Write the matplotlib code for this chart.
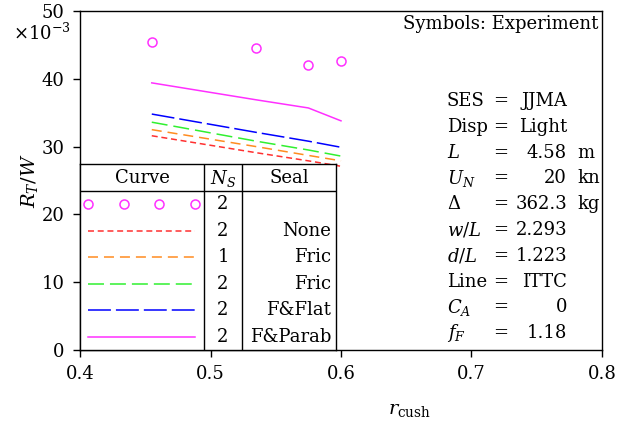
import matplotlib
matplotlib.use("Agg")
import matplotlib.pyplot as plt

plt.rcParams['font.family'] = ['DejaVu Serif']
plt.rcParams['mathtext.fontset'] = 'dejavuserif'
plt.rcParams['lines.scale_dashes'] = False

# resistance-to-weight ratio (x 1e-3) vs cushion ratio
r_exp = [0.455, 0.535, 0.575, 0.600]
rw_exp = [45.4, 44.5, 42.0, 42.6]

r_calc = [0.455, 0.535, 0.575, 0.600]
rw_none = [31.6, 29.1, 27.9, 27.1]
rw_fric1 = [32.5, 30.0, 28.7, 27.9]
rw_fric2 = [33.6, 30.8, 29.5, 28.6]
rw_flat = [34.8, 32.1, 30.8, 29.9]
rw_parab = [39.4, 36.9, 35.7, 33.8]

ns_col = ['2', '2', '1', '2', '2', '2']
seal_col = ['', 'None', 'Fric', 'Fric', 'F&Flat', 'F&Parab']

par_names = ['SES', 'Disp', '$L$', '$U_N$', 'Δ', '$w/L$', '$d/L$', 'Line', '$C_A$', '$f_F$']
par_values = ['JJMA', 'Light', '4.58', '20', '362.3', '2.293', '1.223', 'ITTC', '0', '1.18']
par_units = ['', '', 'm', 'kn', 'kg', '', '', '', '', '']

W, H = 637, 428
fig = plt.figure(figsize=(W / 100, H / 100), dpi=100)
ax = fig.add_axes([80 / W, 1 - 350 / H, 522 / W, 339 / H])
FS = 13


def px(x, y):
    # pixel position -> axes fraction
    return (x - 80) / 522, (350 - y) / 339


styles = [
    (rw_none, '#ff3030', (0, (4.3, 2.7))),
    (rw_fric1, '#ff8c20', (0, (7.2, 4.3))),
    (rw_fric2, '#30f030', (0, (11.5, 4.3))),
    (rw_flat, '#0000ff', (0, (16.5, 3.6))),
    (rw_parab, '#ff30ff', '-'),
]

ax.plot(r_exp, rw_exp, 'o', ms=6.5, mfc='none', mec='#ff30ff', mew=1.1)
for vals, col, ls in styles:
    ax.plot(r_calc, vals, color=col, ls=ls, lw=1.1)

ax.set_xlim(0.4, 0.8)
ax.set_ylim(0, 50)
ax.set_xticks([0.4, 0.5, 0.6, 0.7, 0.8])
ax.set_yticks([0, 10, 20, 30, 40, 50])
ax.tick_params(direction='out', length=5, width=1, labelsize=13, pad=6)
for s in ax.spines.values():
    s.set_linewidth(1)

ax.set_ylabel('$R_T/W$', fontsize=14)
ax.yaxis.set_label_coords(-0.077, 0.5)
ax.text(*px(410, 410), r'$r_\mathrm{cush}$', transform=ax.transAxes,
        fontsize=14, ha='center', va='center')
fig.text(13 / W, 1 - 33 / H, r'$\times10^{-3}$', fontsize=FS, va='center')

ax.text(*px(598, 24), 'Symbols: Experiment', transform=ax.transAxes,
        fontsize=FS, ha='right', va='center')

# parameter block
for i, (n, v, u) in enumerate(zip(par_names, par_values, par_units)):
    y = 101 + 25.8 * i
    ax.text(*px(447, y), n, transform=ax.transAxes, fontsize=FS, va='center')
    ax.text(*px(501, y), '=', transform=ax.transAxes, fontsize=FS,
            ha='center', va='center')
    ax.text(*px(567, y), v, transform=ax.transAxes, fontsize=FS,
            ha='right', va='center')
    if u:
        ax.text(*px(577, y), u, transform=ax.transAxes, fontsize=FS, va='center')

# legend table in lower-left corner
tab = ax.inset_axes([0, 0, 256 / 522, 186 / 339])
tab.set_xlim(0, 256)
tab.set_ylim(186, 0)
tab.set_xticks([])
tab.set_yticks([])
tab.set_facecolor('white')
for s in tab.spines.values():
    s.set_linewidth(1)
tab.axhline(27, color='black', lw=1)
tab.axvline(124, color='black', lw=1)
tab.axvline(162, color='black', lw=1)
tab.text(62, 14, 'Curve', fontsize=FS, ha='center', va='center')
tab.text(143, 14, '$N_S$', fontsize=FS, ha='center', va='center')
tab.text(209, 14, 'Seal', fontsize=FS, ha='center', va='center')

row_y = [27 + 26.5 * (i + 0.5) for i in range(6)]
tab.plot([8, 43.5, 79, 114.5], [row_y[0]] * 4, 'o', ms=6.5, mfc='none',
         mec='#ff30ff', mew=1.1)
for (vals, col, ls), y in zip(styles, row_y[1:]):
    tab.plot([8, 115], [y, y], color=col, ls=ls, lw=1.1)
for y, n, s in zip(row_y, ns_col, seal_col):
    tab.text(143, y, n, fontsize=FS, ha='center', va='center')
    if s:
        tab.text(251, y, s, fontsize=FS, ha='right', va='center')

fig.savefig('out.png', dpi=100)
